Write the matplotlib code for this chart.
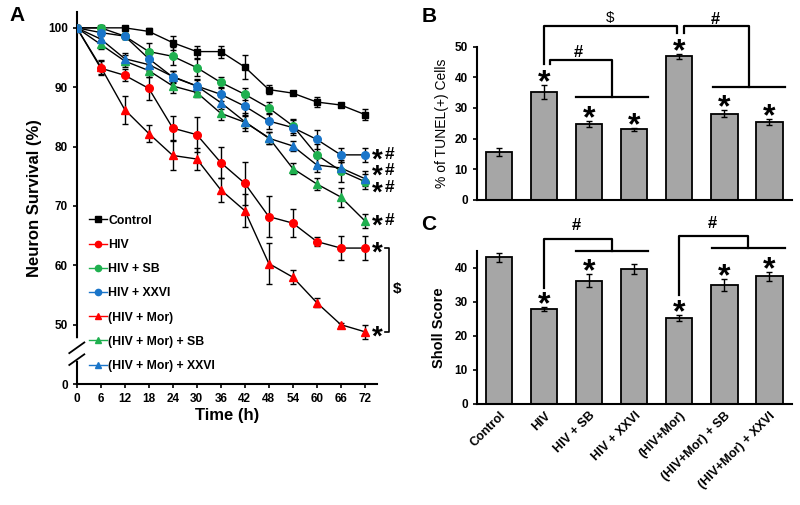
import numpy as np
import matplotlib
matplotlib.use("Agg")
import matplotlib.pyplot as plt

plt.rcParams['font.family'] = ['Liberation Sans', 'DejaVu Sans']

# ---- panel A data ----
times = [0, 6, 12, 18, 24, 30, 36, 42, 48, 54, 60, 66, 72]
series_names = ["Control", "HIV", "HIV + SB", "HIV + XXVI", "(HIV + Mor)",
                "(HIV + Mor) + SB", "(HIV + Mor) + XXVI"]
control = [100, 100, 100, 99.4, 97.5, 96.0, 96.0, 93.4, 89.6, 89.0, 87.5, 87.0, 85.4]
hiv = [100, 93.2, 92.0, 89.8, 83.1, 82.0, 77.3, 73.8, 68.2, 67.1, 64.0, 62.9, 62.9]
hiv_sb = [100, 100, 98.6, 96.0, 95.2, 93.3, 90.8, 88.8, 86.5, 83.5, 78.6, 75.9, 74.1]
hiv_xxvi = [100, 99.2, 98.6, 94.8, 91.7, 90.2, 88.8, 86.8, 84.3, 83.2, 81.2, 78.6, 78.6]
mor = [100, 93.4, 86.2, 82.2, 78.5, 77.9, 72.7, 69.2, 60.3, 58.0, 53.7, 50.0, 48.8]
mor_sb = [100, 97.2, 94.4, 92.8, 90.2, 89.1, 85.6, 84.1, 81.5, 76.3, 73.7, 71.5, 67.5]
mor_xxvi = [100, 98.1, 94.8, 93.8, 91.8, 90.2, 87.4, 84.2, 81.4, 80.1, 76.9, 76.4, 74.6]

control_err = [0, 0, 0.3, 0.5, 1.2, 1.0, 1.0, 2.0, 0.7, 0.3, 0.8, 0.3, 1.0]
hiv_err = [0, 1.2, 1.0, 2.0, 2.0, 3.0, 2.6, 3.6, 3.4, 2.4, 0.8, 2.0, 2.0]
hiv_sb_err = [0, 0.3, 0.5, 1.5, 1.5, 1.4, 1.0, 1.0, 1.0, 1.2, 1.8, 1.8, 1.2]
hiv_xxvi_err = [0, 0.4, 0.5, 1.5, 1.0, 1.2, 1.2, 1.5, 1.4, 1.2, 1.6, 1.2, 1.2]
mor_err = [0, 1.2, 2.4, 1.5, 2.4, 1.8, 2.0, 2.8, 3.5, 1.2, 0.8, 0.3, 1.2]
mor_sb_err = [0, 0.8, 1.0, 1.0, 1.2, 0.8, 1.2, 1.0, 1.0, 1.0, 1.0, 1.6, 1.2]
mor_xxvi_err = [0, 0.5, 1.0, 1.0, 1.0, 1.0, 1.0, 1.5, 1.0, 0.8, 1.2, 1.0, 1.2]

# ---- panel B / C data ----
groups = ["Control", "HIV", "HIV + SB", "HIV + XXVI", "(HIV+Mor)",
          "(HIV+Mor) + SB", "(HIV+Mor) + XXVI"]
tunel = [15.7, 35.2, 24.9, 23.0, 46.9, 28.1, 25.5]
tunel_err = [1.3, 2.2, 1.0, 0.4, 0.8, 1.1, 1.0]
tunel_star = [False, True, True, True, True, True, True]
sholl = [43.0, 27.8, 36.2, 39.6, 25.2, 35.0, 37.5]
sholl_err = [1.3, 0.6, 2.0, 1.4, 0.9, 1.7, 1.3]
sholl_star = [False, True, True, False, True, True, True]

GREEN = "#1fb04f"
BLUE = "#1a75c9"
RED = "#ff0000"
BAR = "#a6a6a6"

fig = plt.figure(figsize=(8, 5.05), dpi=100)


def star(ax, x, y, dy_px=8, size=23):
    # asterisk glyph sits above the baseline, so shift it down to centre it
    off = (dy_px - 0.46 * size * 100 / 72) * 72 / 100
    ax.annotate("*", (x, y), xytext=(0, off), textcoords="offset points",
                fontsize=size, fontweight="bold", ha="center",
                va="baseline", annotation_clip=False, zorder=6)


# =============== panel A ===============
axA = fig.add_axes([0.096, 0.2396, 0.375, 0.737])
styles = [
    (control, control_err, "black", "s", 4.5),
    (hiv, hiv_err, RED, "o", 5.5),
    (hiv_sb, hiv_sb_err, GREEN, "o", 5.5),
    (hiv_xxvi, hiv_xxvi_err, BLUE, "o", 5.5),
    (mor, mor_err, RED, "^", 5.5),
    (mor_sb, mor_sb_err, GREEN, "^", 5.5),
    (mor_xxvi, mor_xxvi_err, BLUE, "^", 5.5),
]
for (y, e, c, m, ms), name in zip(styles, series_names):
    axA.errorbar(times, y, yerr=e, fmt="none", ecolor="black", elinewidth=1,
                 capsize=2, capthick=1, zorder=2)
    axA.plot(times, y, color="black", lw=1, zorder=3)
    axA.plot(times, y, linestyle="none", marker=m, ms=ms, color=c, zorder=4)
    # proxy for legend
    axA.plot([], [], color=c, lw=1, marker=m, ms=4.5, label=name)

axA.set_xlim(0, 75)
axA.set_ylim(40, 102.7)
axA.set_xticks(times)
axA.set_xticklabels([str(t) for t in times])
axA.set_yticks([40, 50, 60, 70, 80, 90, 100])
axA.set_yticklabels(["0", "50", "60", "70", "80", "90", "100"])
axA.spines["top"].set_visible(False)
axA.spines["right"].set_visible(False)
for s in ["left", "bottom"]:
    axA.spines[s].set_linewidth(1.5)
axA.tick_params(direction="out", length=3, width=1.2, labelsize=8.5)
for lab in axA.get_xticklabels() + axA.get_yticklabels():
    lab.set_fontweight("bold")
axA.set_xlabel("Time (h)", fontsize=12, fontweight="bold", labelpad=2)
axA.set_ylabel("Neuron Survival (%)", fontsize=12, fontweight="bold", labelpad=4)

# legend with line colours per series
leg = axA.legend(loc="upper left", bbox_to_anchor=(0.04, 0.455), frameon=False,
                 fontsize=8.8, labelspacing=1.0, handlelength=1.5,
                 handletextpad=0.1, borderaxespad=0, borderpad=0)
for t in leg.get_texts():
    t.set_fontweight("bold")
for h, (y, e, c, m, ms) in zip(leg.legend_handles, styles):
    h.set_color(c)

# axis break on the y axis
axA.plot([0, 0], [44.3, 47.2], color="white", lw=4, clip_on=False, zorder=5,
         transform=axA.get_yaxis_transform())
for yb in [44.1, 46.1]:
    axA.plot([-0.025, 0.025], [yb - 0.9, yb + 0.9], color="black", lw=1.3,
             clip_on=False, zorder=6, transform=axA.get_yaxis_transform())

# significance marks at the right end
for yv in [78.6, 75.9, 73.1, 67.5]:
    star(axA, 75.0, yv, dy_px=0, size=20)
    axA.text(78.2, yv, "#", fontsize=12.5, fontweight="bold", va="center",
             ha="center", clip_on=False, zorder=6)
for yv in [62.9, 48.8]:
    star(axA, 75.0, yv, dy_px=0, size=20)
axA.plot([77.0, 78.0, 78.0, 77.0], [62.9, 62.9, 48.8, 48.8], color="black",
         lw=1.2, clip_on=False)
axA.text(80.0, 56.0, "$", fontsize=11, fontweight="bold", va="center",
         ha="center", clip_on=False)

fig.text(0.012, 0.97, "A", fontsize=15, fontweight="bold", va="center")

# =============== panels B and C ===============
x = np.arange(len(groups))


def bar_panel(ax, vals, errs, stars, ymax, step):
    ax.bar(x, vals, width=0.58, color=BAR, edgecolor="black", linewidth=1.3,
           zorder=2)
    ax.errorbar(x, vals, yerr=errs, fmt="none", ecolor="black", elinewidth=1,
                capsize=2, capthick=1, zorder=3)
    for xi, v, e, s in zip(x, vals, errs, stars):
        if s:
            star(ax, xi, v + e, dy_px=8.5)
    ax.set_xlim(-0.5, 6.5)
    ax.set_ylim(0, ymax)
    ax.set_yticks(np.arange(0, ymax + 0.1, step))
    ax.spines["top"].set_visible(False)
    ax.spines["right"].set_visible(False)
    ax.spines["left"].set_linewidth(1.5)
    ax.spines["bottom"].set_linewidth(1.5)
    ax.tick_params(axis="y", direction="out", length=3, width=1.2, labelsize=8.5)
    ax.tick_params(axis="x", length=0)
    for lab in ax.get_yticklabels():
        lab.set_fontweight("bold")


def bline(ax, xs, ys):
    ax.plot(xs, ys, color="black", lw=1.6, clip_on=False, zorder=4)


axB = fig.add_axes([0.596, 0.604, 0.394, 0.3036])
bar_panel(axB, tunel, tunel_err, tunel_star, 50, 10)
axB.set_xticks([])
axB.set_ylabel("% of TUNEL(+) Cells", fontsize=10, labelpad=4)

# $ bracket HIV vs (HIV+Mor)
bline(axB, [1, 1, 3.95, 3.95], [44.4, 56.7, 56.7, 54.4])
axB.text(2.45, 59.5, "$", fontsize=11, ha="center", va="center")
# # bracket HIV vs treatments
bline(axB, [1.12, 1.12, 2.5, 2.5], [44.4, 45.6, 45.6, 33.5])
bline(axB, [1.7, 3.3], [33.5, 33.5])
axB.text(1.75, 48.2, "#", fontsize=12, fontweight="bold", ha="center", va="center")
# # bracket (HIV+Mor) vs treatments
bline(axB, [4.1, 4.1, 5.55, 5.55], [54.4, 56.7, 56.7, 37.0])
bline(axB, [4.75, 6.35], [37.0, 37.0])
axB.text(4.8, 59.0, "#", fontsize=12, fontweight="bold", ha="center", va="center")
fig.text(0.527, 0.968, "B", fontsize=15, fontweight="bold", va="center")

axC = fig.add_axes([0.596, 0.2, 0.394, 0.3036])
bar_panel(axC, sholl, sholl_err, sholl_star, 45, 10)
axC.set_xticks(x)
axC.set_xticklabels(groups, rotation=45, ha="right", rotation_mode="anchor",
                    fontsize=9, fontweight="bold")
axC.tick_params(axis="x", pad=4)
axC.set_ylabel("Sholl Score", fontsize=10.5, fontweight="bold", labelpad=6)
bline(axC, [1, 1, 2.5, 2.5], [34.0, 48.5, 48.5, 45.0])
bline(axC, [1.7, 3.3], [45.0, 45.0])
axC.text(1.7, 52.5, "#", fontsize=12, fontweight="bold", ha="center", va="center")
bline(axC, [4, 4, 5.52, 5.52], [32.0, 49.2, 49.2, 45.8])
bline(axC, [4.72, 6.35], [45.8, 45.8])
axC.text(4.72, 53.0, "#", fontsize=12, fontweight="bold", ha="center", va="center")
fig.text(0.527, 0.555, "C", fontsize=15, fontweight="bold", va="center")

fig.savefig("out.png", dpi=100)
